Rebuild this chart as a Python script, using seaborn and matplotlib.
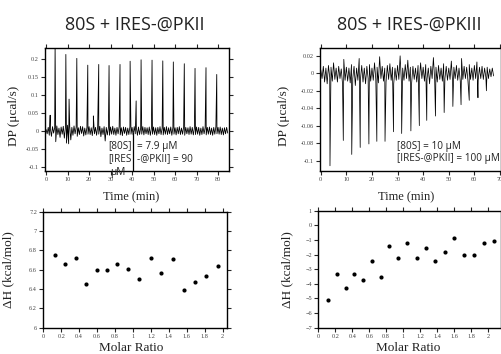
import numpy as np
import pandas as pd
import matplotlib
matplotlib.use("Agg")
import matplotlib.pyplot as plt
import seaborn as sns

# ---------------- data ----------------
# Left thermogram (80S + IRES-@PKII): baseline samples every 0.5 min
dt_left = 0.5
left_baseline = [
    0.004, -0.008, 0.010, -0.012, 0.006, -0.015, 0.012, -0.006, 0.009, -0.030, 0.014, -0.010, 0.008, -0.018, 0.011, -0.009, 0.013, -0.020, 0.010, -0.034,
    0.016, -0.036, 0.012, -0.025, 0.010, -0.012, 0.014, -0.008, 0.011, -0.015, 0.009, -0.010, 0.013, -0.007, 0.012, -0.014, 0.008, -0.011, 0.010, -0.009,
    0.012, -0.010, 0.009, -0.013, 0.015, -0.008, 0.010, -0.012, 0.011, -0.009, 0.013, -0.016, 0.008, -0.010, 0.012, -0.028, 0.010, -0.011, 0.009, -0.012,
    0.011, -0.009, 0.013, -0.010, 0.008, -0.012, 0.010, -0.008, 0.012, -0.011, 0.009, -0.013, 0.011, -0.007, 0.010, -0.012, 0.008, -0.010, 0.012, -0.009,
    0.010, -0.011, 0.012, -0.008, 0.009, -0.012, 0.011, -0.010, 0.008, -0.009, 0.012, -0.011, 0.010, -0.008, 0.009, -0.010, 0.011, -0.012, 0.008, -0.009,
    0.011, -0.010, 0.009, -0.012, 0.010, -0.008, 0.012, -0.010, 0.008, -0.011, 0.010, -0.009, 0.012, -0.010, 0.009, -0.008, 0.011, -0.012, 0.010, -0.009,
    0.009, -0.011, 0.010, -0.008, 0.012, -0.010, 0.008, -0.009, 0.011, -0.012, 0.010, -0.008, 0.009, -0.010, 0.012, -0.009, 0.010, -0.011, 0.008, -0.010,
    0.011, -0.009, 0.010, -0.012, 0.008, -0.010, 0.012, -0.008, 0.009, -0.011, 0.010, -0.009, 0.011, -0.010, 0.008, -0.012, 0.010, -0.009, 0.012, -0.008,
    0.010, -0.009, 0.011, -0.010, 0.008, -0.011, 0.009, -0.008, 0.010, -0.006,
]
left_spike_time = [4.2, 9.2, 14.3, 19.4, 24.5, 29.3, 34.4, 39.1, 44.2, 49.3, 54.3, 59.2, 64.3, 69.3, 74.4, 79.4,
                   1.9, 10.7, 22.0, 41.9]
left_spike_dp = [0.240, 0.214, 0.203, 0.184, 0.186, 0.183, 0.186, 0.195, 0.199, 0.198, 0.196, 0.193, 0.188, 0.175, 0.177, 0.158,
                 0.044, 0.089, 0.042, 0.084]

# Right thermogram (80S + IRES-@PKIII)
dt_right = 0.5
right_baseline = [
    0.004, -0.006, 0.008, -0.010, 0.006, -0.012, 0.009, -0.005, 0.007, -0.009, 0.012, -0.007, 0.006, -0.010, 0.008, -0.006, 0.005, -0.012, 0.016, -0.008,
    0.007, -0.009, 0.006, -0.011, 0.010, -0.006, 0.008, -0.014, 0.006, -0.008, 0.017, -0.007, 0.009, -0.010, 0.006, -0.012, 0.008, -0.006, 0.010, -0.009,
    0.006, -0.008, 0.012, -0.007, 0.007, -0.011, 0.019, -0.006, 0.008, -0.009, 0.006, -0.010, 0.009, -0.007, 0.011, -0.008, 0.007, -0.012, 0.006, -0.008,
    0.009, -0.007, 0.020, -0.010, 0.006, -0.008, 0.010, -0.006, 0.015, -0.009, 0.007, -0.011, 0.008, -0.007, 0.006, -0.010, 0.009, -0.008, 0.012, -0.006,
    0.007, -0.009, 0.010, -0.007, 0.006, -0.012, 0.008, -0.006, 0.018, -0.008, 0.007, -0.010, 0.009, -0.007, 0.006, -0.009, 0.011, -0.006, 0.008, -0.008,
    0.006, -0.007, 0.014, -0.010, 0.007, -0.006, 0.009, -0.008, 0.006, -0.009, 0.017, -0.007, 0.008, -0.006, 0.007, -0.009, 0.010, -0.007, 0.006, -0.008,
    0.009, -0.006, 0.013, -0.008, 0.007, -0.006, 0.008, -0.007, 0.006, -0.005, 0.007, -0.006, 0.005, -0.004, 0.006, -0.003,
]
right_spike_time = [3.6, 8.8, 12.1, 15.4, 18.8, 21.9, 25.1, 28.4, 31.6, 35.2, 38.5, 41.4, 44.8, 48.2, 51.6, 54.8, 58.0, 61.4, 64.7]
right_spike_dp = [-0.106, -0.077, -0.093, -0.085, -0.081, -0.078, -0.078, -0.067, -0.069, -0.066, -0.060, -0.054, -0.049, -0.045,
                  -0.038, -0.036, -0.031, -0.028, -0.020]

# Integrated heats
left_ratio = [0.130, 0.242, 0.364, 0.476, 0.595, 0.706, 0.825, 0.948, 1.071, 1.197, 1.316, 1.442, 1.565, 1.688, 1.818, 1.948]
left_dh = [6.752, 6.659, 6.720, 6.452, 6.597, 6.593, 6.655, 6.607, 6.503, 6.720, 6.562, 6.707, 6.390, 6.469, 6.538, 6.641]

right_ratio = [0.118, 0.224, 0.327, 0.425, 0.531, 0.630, 0.736, 0.839, 0.945, 1.051, 1.161, 1.268, 1.378, 1.492, 1.602, 1.713, 1.831, 1.949, 2.067]
right_dh = [-5.10, -3.35, -4.31, -3.35, -3.74, -2.46, -3.56, -1.39, -2.26, -1.23, -2.21, -1.53, -2.42, -1.82, -0.85, -2.01, -2.05, -1.23, -1.10]

titles = ["80S + IRES-@PKII", "80S + IRES-@PKIII"]

# ---------------- build tables ----------------
def trace_df(baseline, dt, st, sv):
    t = np.arange(len(baseline)) * dt
    df = pd.DataFrame({"t": np.concatenate([t, st]), "dp": np.concatenate([baseline, sv])})
    return df.sort_values("t").reset_index(drop=True)

df_l = trace_df(left_baseline, dt_left, left_spike_time, left_spike_dp)
df_r = trace_df(right_baseline, dt_right, right_spike_time, right_spike_dp)
dh_l = pd.DataFrame({"ratio": left_ratio, "dh": left_dh})
dh_r = pd.DataFrame({"ratio": right_ratio, "dh": right_dh})

# ---------------- figure ----------------
sns.set_style("ticks")
plt.rcParams["font.family"] = ["Liberation Serif", "DejaVu Serif"]

W, H = 502, 354
fig = plt.figure(figsize=(W / 100, H / 100), dpi=100)

def box(l, t, r, b):
    return fig.add_axes([l / W, 1 - b / H, (r - l) / W, (b - t) / H])

ax_tl = box(45, 48, 229, 171)
ax_tr = box(320, 48, 501.5, 171)
ax_bl = box(43.3, 211.7, 226.7, 327.7)
ax_br = box(318.3, 210.7, 501.5, 327.7)

sns.lineplot(data=df_l, x="t", y="dp", ax=ax_tl, color="black", lw=0.6, sort=False, estimator=None)
sns.lineplot(data=df_r, x="t", y="dp", ax=ax_tr, color="black", lw=0.55, sort=False, estimator=None)
sns.scatterplot(data=dh_l, x="ratio", y="dh", ax=ax_bl, color="black", s=9, linewidth=0)
sns.scatterplot(data=dh_r, x="ratio", y="dh", ax=ax_br, color="black", s=9, linewidth=0)

ax_tl.set_xlim(-0.5, 85.1)
ax_tl.set_ylim(-0.112, 0.232)
ax_tl.set_xticks(range(0, 81, 10))
ax_tl.set_yticks([-0.1, -0.05, 0, 0.05, 0.1, 0.15, 0.2])
ax_tl.set_yticklabels(["-0.1", "-0.05", "0", "0.05", "0.1", "0.15", "0.2"])

ax_tr.set_xlim(-0.3, 70.6)
ax_tr.set_ylim(-0.112, 0.029)
ax_tr.set_xticks(range(0, 71, 10))
ax_tr.set_yticks([-0.1, -0.08, -0.06, -0.04, -0.02, 0, 0.02])
ax_tr.set_yticklabels(["-0.1", "-0.08", "-0.06", "-0.04", "-0.02", "0", "0.02"])

ax_bl.set_xlim(0, 2.045)
ax_bl.set_ylim(6, 7.2)
ax_bl.set_xticks(np.round(np.arange(0, 2.01, 0.2), 1))
ax_bl.set_xticklabels(["0", "0.2", "0.4", "0.6", "0.8", "1", "1.2", "1.4", "1.6", "1.8", "2"])
ax_bl.set_yticks([6, 6.2, 6.4, 6.6, 6.8, 7, 7.2])
ax_bl.set_yticklabels(["6", "6.2", "6.4", "6.6", "6.8", "7", "7.2"])

ax_br.set_xlim(0, 2.16)
ax_br.set_ylim(-7, 1)
ax_br.set_xticks(np.round(np.arange(0, 2.01, 0.2), 1))
ax_br.set_xticklabels(["0", "0.2", "0.4", "0.6", "0.8", "1", "1.2", "1.4", "1.6", "1.8", "2"])
ax_br.set_yticks(range(-7, 2))

for ax in (ax_tl, ax_tr, ax_bl, ax_br):
    for s in ax.spines.values():
        s.set_visible(True)
        s.set_linewidth(1.0)
        s.set_color("black")
    ax.tick_params(direction="out", length=3, width=0.8, top=True, right=True,
                   labeltop=False, labelright=False, labelsize=4.5, labelcolor="#444444", pad=1.5)

lab = dict(family=["Liberation Serif"], color="#222222")
ax_tl.set_xlabel("Time (min)", fontsize=9, **lab)
ax_tr.set_xlabel("Time (min)", fontsize=9, **lab)
ax_tl.set_ylabel("DP (μcal/s)", fontsize=9.5, **lab)
ax_tr.set_ylabel("DP (μcal/s)", fontsize=9.5, **lab)
ax_bl.set_xlabel("Molar Ratio", fontsize=9.5, **lab)
ax_br.set_xlabel("Molar Ratio", fontsize=9.5, **lab)
ax_bl.set_ylabel("ΔH (kcal/mol)", fontsize=9.5, **lab)
ax_br.set_ylabel("ΔH (kcal/mol)", fontsize=9.5, **lab)

ax_tl.xaxis.set_label_coords(0.466, -0.168)
ax_tr.xaxis.set_label_coords(0.474, -0.168)
ax_tl.yaxis.set_label_coords(-0.136, 0.447)
ax_tr.yaxis.set_label_coords(-0.165, 0.447)
ax_bl.xaxis.set_label_coords(0.48, -0.125)
ax_br.xaxis.set_label_coords(0.49, -0.125)
ax_bl.yaxis.set_label_coords(-0.16, 0.5)
ax_br.yaxis.set_label_coords(-0.136, 0.5)

sans = ["Open Sans", "DejaVu Sans"]
fig.text(135 / W, 1 - 25 / H, titles[0], ha="center", va="center", fontsize=13, family=sans, color="#222222")
fig.text(409 / W, 1 - 25 / H, titles[1], ha="center", va="center", fontsize=13, family=sans, color="#222222")

tk = dict(fontsize=7.2, family=sans, color="#222222", va="center", ha="left")
fig.text(108 / W, 1 - 146 / H, "[80S]", **tk)
fig.text(137 / W, 1 - 146 / H, "= 7.9 μM", **tk)
fig.text(108 / W, 1 - 159 / H, "[IRES", **tk)
fig.text(137 / W, 1 - 159 / H, "-@PKII] = 90", **tk)
fig.text(110 / W, 1 - 172 / H, "μM", **tk)
fig.add_artist(plt.Line2D([133.5 / W, 133.5 / W], [1 - 133 / H, 1 - 171 / H], color="black", lw=0.9))

fig.text(396.7 / W, 1 - 146 / H, "[80S] = 10 μM", **tk)
fig.text(396.7 / W, 1 - 159 / H, "[IRES-@PKII] = 100 μM", **tk)

fig.savefig("out.png", dpi=100)
